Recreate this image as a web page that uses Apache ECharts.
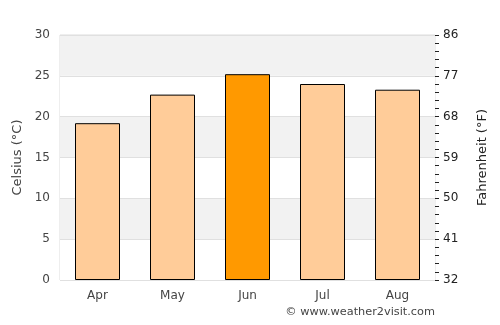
<!DOCTYPE html>
<html><head><meta charset="utf-8">
<script src="https://cdn.jsdelivr.net/npm/echarts@6/dist/echarts.min.js"></script>
<style>html,body{margin:0;padding:0;background:#fff}#c{width:500px;height:325px}</style>
</head><body><div id="c"></div>
<script>
const months = ['Apr', 'May', 'Jun', 'Jul', 'Aug'];
const celsius = [19.2, 22.7, 25.2, 24.0, 23.3];
const highlightMonth = 'Jun';
const cTicks = [0, 5, 10, 15, 20, 25, 30];
const fTicks = [32, 41, 50, 59, 68, 77, 86];

const font = 'DejaVu Sans';
const chart = echarts.init(document.getElementById('c'), null, {renderer: 'canvas'});
chart.setOption({
  animation: false,
  grid: {left: 60, right: 65, top: 35, bottom: 45, show: true, borderColor: '#dddddd', borderWidth: 1, backgroundColor: 'transparent'},
  xAxis: {
    type: 'category', data: months,
    axisLine: {show: false}, axisTick: {show: false},
    axisLabel: {color: '#444', fontFamily: font, fontSize: 12, margin: 10}
  },
  yAxis: [{
    type: 'value', min: cTicks[0], max: cTicks[cTicks.length - 1], interval: 5,
    name: 'Celsius (°C)', nameLocation: 'middle', nameGap: 34,
    nameTextStyle: {color: '#444', fontFamily: font, fontSize: 13},
    axisLine: {show: false}, axisTick: {show: false},
    axisLabel: {color: '#444', fontFamily: font, fontSize: 12, margin: 10},
    splitLine: {show: true, lineStyle: {color: '#e0e0e0', width: 1}},
    splitArea: {show: true, areaStyle: {color: ['#ffffff', '#f2f2f2']}}
  }, {
    type: 'value', min: fTicks[0], max: fTicks[fTicks.length - 1], interval: 9,
    position: 'right',
    name: 'Fahrenheit (°F)', nameLocation: 'middle', nameGap: 41, nameRotate: 90,
    nameTextStyle: {color: '#222', fontFamily: font, fontSize: 13},
    axisLine: {show: false},
    axisTick: {show: true, inside: false, length: 4, lineStyle: {color: '#222'}},
    minorTick: {show: true, splitNumber: 5, length: 4, lineStyle: {color: '#222'}},
    axisLabel: {color: '#222', fontFamily: font, fontSize: 12, margin: 8},
    splitLine: {show: false}
  }],
  series: [{
    type: 'bar', barWidth: 45,
    data: celsius.map((v, i) => ({
      value: v,
      itemStyle: {color: months[i] === highlightMonth ? '#ff9900' : '#ffcc99', borderColor: '#000', borderWidth: 1}
    }))
  }],
  graphic: [{
    type: 'text', right: 65, top: 307,
    style: {text: '© www.weather2visit.com', fill: '#444', font: '11.3px "DejaVu Sans"'}
  }]
});
</script></body></html>
